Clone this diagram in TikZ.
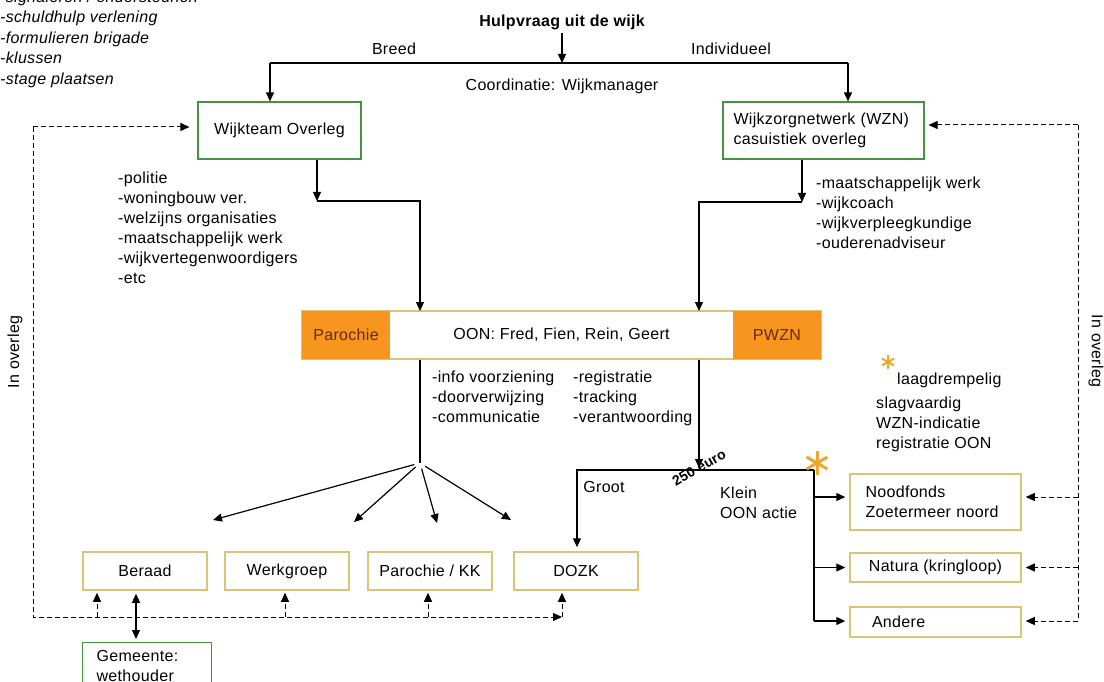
\documentclass[tikz,border=0pt]{standalone}
\usepackage{fontspec}
\setmainfont{Liberation Sans}[LetterSpace=2]
\usetikzlibrary{arrows.meta}
\definecolor{boxgreen}{RGB}{70,145,70}
\definecolor{boxtan}{RGB}{216,196,118}
\definecolor{oonorange}{RGB}{246,150,30}
\definecolor{oontext}{RGB}{105,40,20}
\definecolor{stargold}{RGB}{240,165,45}
\begin{document}
\begin{tikzpicture}[x=1pt,y=-1pt,font=\fontsize{16}{20}\selectfont,
  >={Triangle[length=9pt,width=8pt]},
  conn/.style={line width=1.2pt},
  dashline/.style={line width=1pt,dash pattern=on 5pt off 3pt},
  greenbox/.style={draw=boxgreen,line width=1.2pt,minimum height=57pt},
  tanbox/.style={draw=boxtan,line width=1.5pt,minimum width=124pt,minimum height=38pt},
  oranje/.style={fill=oonorange,text=oontext,minimum width=88pt,minimum height=48pt,inner sep=0pt},
  list/.style={align=left,anchor=north west,inner sep=0pt}]
\clip (0,0) rectangle (1104,682);
\node[list,font=\fontsize{16}{20.5}\selectfont\itshape] (klussen) at (0,-9.5) {-signaleren / ondersteunen\\-schuldhulp verlening\\-formulieren brigade\\-klussen\\-stage plaatsen};
\node[font=\fontsize{16}{20}\selectfont\bfseries] (hulp) at (562,22) {Hulpvraag uit de wijk};
\coordinate (split) at (562,63);
\coordinate (breedhoek) at (270,63);
\coordinate (indivhoek) at (848,63);
\draw[conn,->] (hulp) -- (split);
\draw[conn] (breedhoek) -- (indivhoek);
\node (breed) at (394,49) {Breed};
\node (indiv) at (731,49) {Individueel};
\node (coord) at (562,86) {Coordinatie: Wijkmanager};
\node[greenbox,minimum width=163pt] (wijkteam) at (279.5,130.5) {Wijkteam Overleg};
\node[greenbox,align=left,text width=180pt,inner xsep=10.5pt] (wzn) at (823.5,130.5) {Wijkzorgnetwerk (WZN)\\casuistiek overleg};
\draw[conn,->] (breedhoek) -- (breedhoek |- wijkteam.north);
\draw[conn,->] (indivhoek) -- (indivhoek |- wzn.north);
\node[list] (wtlijst) at (118,172) {-politie\\-woningbouw ver.\\-welzijns organisaties\\-maatschappelijk werk\\-wijkvertegenwoordigers\\-etc};
\node[list] (wznlijst) at (816,177) {-maatschappelijk werk\\-wijkcoach\\-wijkverpleegkundige\\-ouderenadviseur};
\node[draw=boxtan,line width=1.2pt,minimum width=519pt,minimum height=48pt] (oon) at (561.5,335) {OON: Fred, Fien, Rein, Geert};
\node[oranje] (parochie) at (346,335) {Parochie};
\node[oranje] (pwzn) at (777,335) {PWZN};
\coordinate (wtknik) at (317,201);
\coordinate (wznknik) at (802,202);
\coordinate (oonlinks) at (420,311);
\coordinate (oonrechts) at (699,311);
\draw[conn,->] (wtknik |- wijkteam.south) -- (wtknik);
\draw[conn,->] (wtknik) -| (oonlinks);
\draw[conn,->] (wznknik |- wzn.south) -- (wznknik);
\draw[conn,->] (wznknik) -| (oonrechts);
\node[list] (taken) at (432,371) {-info voorziening\\-doorverwijzing\\-communicatie};
\node[list] (admin) at (573,371) {-registratie\\-tracking\\-verantwoording};
\coordinate (fan) at (420,463);
\coordinate (f1) at (213,520);
\coordinate (f2) at (354,522);
\coordinate (f3) at (437,523);
\coordinate (f4) at (511,520);
\draw[conn] (fan |- oon.south) -- (fan);
\foreach \p in {f1,f2,f3,f4}
  \draw[conn,->,shorten <=6pt] (fan) -- (\p);
\node[tanbox] (beraad) at (145,571) {Beraad};
\node[tanbox] (werkgroep) at (287,571) {Werkgroep};
\node[tanbox] (parkk) at (430,571) {Parochie / KK};
\node[tanbox] (dozk) at (576,571) {DOZK};
\coordinate (grens) at (699,468);
\coordinate (groot) at (577,470);
\coordinate (klein) at (814,470);
\coordinate (kleinonder) at (814,621);
\draw[conn,->] (grens |- oon.south) -- (grens);
\draw[conn,->,shorten >=4pt] (klein) -- (groot) -- (groot |- dozk.north);
\draw[conn] (klein) -- (kleinonder);
\node[font=\fontsize{14}{16}\selectfont\bfseries,rotate=30] (drempel) at (699,468) {250 euro};
\node (grootlabel) at (604,487) {Groot};
\node[list] (kleinlabel) at (720,487) {Klein\\OON actie};
\foreach \a in {90,30,150}
  \draw[stargold,line width=3pt] (817,463) ++(\a:12) -- ++(\a+180:24);
\foreach \a in {90,30,150}
  \draw[stargold,line width=2pt] (888,362) ++(\a:7) -- ++(\a+180:14);
\node[list] (laag) at (897,373) {laagdrempelig};
\node[list] (slag) at (876,397) {slagvaardig\\WZN-indicatie\\registratie OON};
\node[tanbox,minimum width=171pt,minimum height=56pt,align=left,text width=140pt,inner xsep=15.5pt] (noodfonds) at (935.5,502) {Noodfonds\\Zoetermeer noord};
\node[tanbox,minimum width=171pt,minimum height=29pt] (natura) at (935.5,567.5) {Natura (kringloop)};
\node[tanbox,minimum width=171pt,minimum height=30pt,align=left,text width=127pt,inner xsep=22pt] (andere) at (935.5,622) {Andere};
\coordinate (nfniveau) at (0,497);
\draw[conn,->,shorten >=4pt] (klein |- nfniveau) -- (noodfonds.west |- nfniveau);
\draw[conn,->,shorten >=4pt] (klein |- natura.west) -- (natura.west);
\draw[conn,->,shorten >=4pt] (kleinonder) -- (kleinonder -| andere.west);
\coordinate (rechtsboven) at (1078,125);
\coordinate (rechtsonder) at (1078,621);
\draw[dashline,->,shorten >=4pt] (rechtsboven) -- (wzn.east |- rechtsboven);
\draw[dashline] (rechtsboven) -- (rechtsonder);
\draw[dashline,->,shorten >=4pt] (rechtsboven |- nfniveau) -- (noodfonds.east |- nfniveau);
\draw[dashline,->,shorten >=4pt] (rechtsboven |- natura.east) -- (natura.east);
\draw[dashline,->,shorten >=4pt] (rechtsonder) -- (rechtsonder -| andere.east);
\node[rotate=-90] (overlegrechts) at (1096,351) {In overleg};
\coordinate (linksboven) at (33,127);
\coordinate (linksonder) at (33,617);
\coordinate (b1) at (97,617);
\coordinate (b2) at (285,617);
\coordinate (b3) at (428,617);
\coordinate (b4) at (562,617);
\draw[dashline,->,shorten >=8pt] (linksboven) -- (wijkteam.west |- linksboven);
\draw[dashline,->] (linksboven) -- (linksonder) -- (b4);
\draw[dashline,->,shorten >=2pt] (b1) -- (b1 |- beraad.south);
\draw[dashline,->,shorten >=2pt] (b2) -- (b2 |- werkgroep.south);
\draw[dashline,->,shorten >=2pt] (b3) -- (b3 |- parkk.south);
\draw[dashline,->,shorten >=2pt] (b4) -- (b4 |- dozk.south);
\node[rotate=90] (overleglinks) at (15,352) {In overleg};
\node[draw=boxgreen,line width=1.2pt,anchor=north west,align=left,text width=101pt,inner xsep=14pt,inner ysep=8pt] (gemeente) at (82,642) {Gemeente:\\wethouder};
\coordinate (dub) at (136,617);
\draw[conn,<->,shorten <=3pt,shorten >=3pt] (dub |- beraad.south) -- (dub |- gemeente.north);
\end{tikzpicture}
\end{document}
